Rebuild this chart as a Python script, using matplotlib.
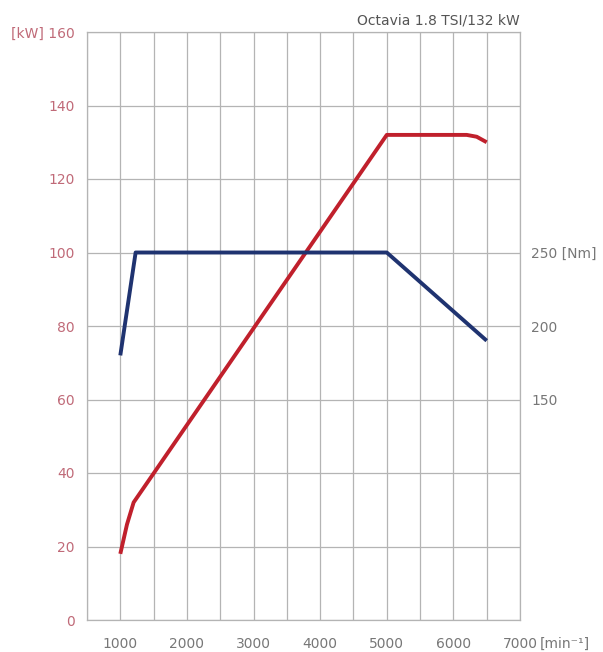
import matplotlib
matplotlib.use("Agg")
import matplotlib.pyplot as plt
from matplotlib.ticker import FixedLocator

# Data
power_rpm = [1000, 1100, 1200, 5000, 6200, 6350, 6500]
power_kw = [18, 26, 32, 132, 132, 131.5, 130]
torque_rpm = [1000, 1230, 5000, 6500]
torque_nm = [180, 250, 250, 190]

x_ticks = [1000, 2000, 3000, 4000, 5000, 6000, 7000]
x_labels = ["1000", "2000", "3000", "4000", "5000", "6000", "7000"]
x_unit = "[min\u207b\u00b9]"
kw_ticks = [0, 20, 40, 60, 80, 100, 120, 140, 160]
kw_labels = ["0", "20", "40", "60", "80", "100", "120", "140", "[kW] 160"]
nm_ticks = [150, 200, 250]
nm_labels = ["150", "200", "250 [Nm]"]
title = "Octavia 1.8 TSI/132 kW"

plt.rcParams['font.family'] = ['DejaVu Sans']
fig = plt.figure(figsize=(6.03, 6.52), dpi=100)
ax = fig.add_axes([87/603, 32/652, 433/603, 588/652])

grid_col = "#b4b4b4"
red = "#c0202c"
blue = "#1f3370"
gray = "#777777"
pink = "#c06a78"

ax.set_xlim(500, 7000)
ax.set_ylim(0, 160)
ax.xaxis.set_major_locator(FixedLocator(x_ticks))
ax.xaxis.set_minor_locator(FixedLocator(list(range(500, 7001, 500))))
ax.set_xticklabels(x_labels)
ax.set_yticks(kw_ticks)
ax.set_yticklabels(kw_labels)
ax.grid(True, which='both', axis='x', color=grid_col, linewidth=0.9)
ax.grid(True, which='major', axis='y', color=grid_col, linewidth=0.9)
ax.tick_params(which='both', length=0)
ax.tick_params(axis='x', pad=12, labelsize=10, labelcolor=gray)
ax.tick_params(axis='y', pad=9, labelsize=10, labelcolor=pink)
for s in ax.spines.values():
    s.set_color(grid_col)
    s.set_linewidth(0.9)
ax.set_axisbelow(True)

ax.annotate(x_unit, xy=(7000, 0), xycoords='data', xytext=(14, -12),
            textcoords='offset points', ha='left', va='top', fontsize=10, color=gray)

ax.plot(power_rpm, power_kw, color=red, linewidth=2.8, solid_capstyle='butt', zorder=3)

ax2 = ax.twinx()
ax2.set_ylim(0, 400)
ax2.set_yticks(nm_ticks)
ax2.set_yticklabels(nm_labels)
ax2.tick_params(length=0, pad=8, labelsize=10, labelcolor=gray)
for s in ax2.spines.values():
    s.set_visible(False)
ax2.plot(torque_rpm, torque_nm, color=blue, linewidth=2.8, solid_capstyle='butt', zorder=3)

ax.text(1.0, 1.008, title, transform=ax.transAxes, ha='right', va='bottom',
        fontsize=10, color="#555555")

fig.savefig("out.png", dpi=100, facecolor="white")
